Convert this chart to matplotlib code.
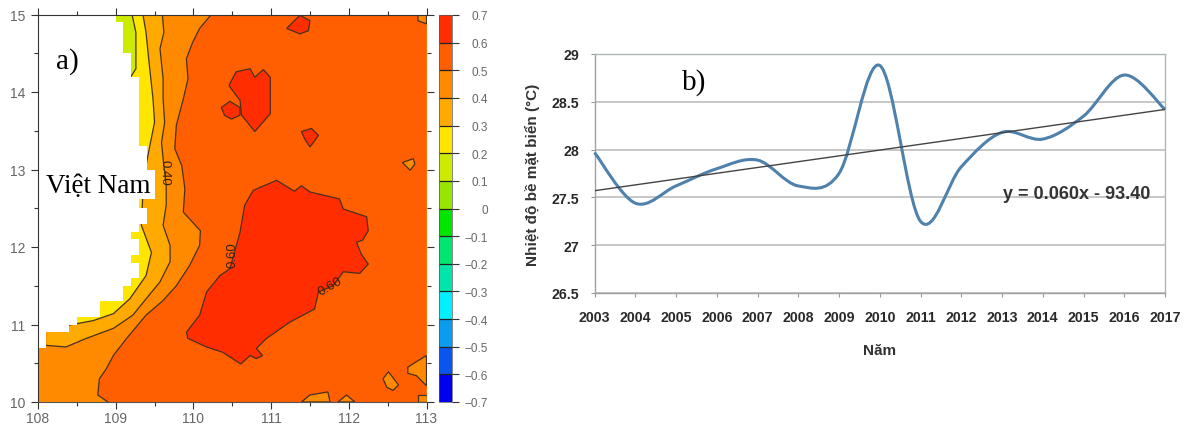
import numpy as np
import matplotlib
matplotlib.use("Agg")
import matplotlib.pyplot as plt
from matplotlib.colors import ListedColormap, BoundaryNorm
from matplotlib.cm import ScalarMappable
from matplotlib.path import Path
from matplotlib.patches import PathPatch

W, H = 1187, 427

# ---------- panel a: contour outlines (lon, lat) ----------
land = [(108,15),(109,15),(109,14.9),(109.1,14.9),(109.1,14.5),(109.2,14.5),(109.2,14.2),(109.3,14.2),
        (109.3,13.3),(109.4,13.3),(109.4,13.0),(109.5,13.0),(109.5,12.62),(109.3,12.62),(109.3,12.5),
        (109.4,12.5),(109.4,12.3),(109.3,12.3),(109.3,12.2),(109.2,12.2),(109.2,12.1),(109.3,12.1),
        (109.3,11.9),(109.2,11.9),(109.2,11.8),(109.3,11.8),(109.3,11.6),(109.2,11.6),(109.2,11.5),
        (109.1,11.5),(109.1,11.3),(108.8,11.3),(108.8,11.1),(108.5,11.1),(108.5,11.0),(108.4,11.0),
        (108.4,10.9),(108.1,10.9),(108.1,10.7),(108,10.7)]
c50 = [(110.23,15),(110.08,14.82),(109.99,14.64),(109.91,14.43),(109.93,14.17),(109.87,13.91),(109.78,13.57),
       (109.76,13.27),(109.85,13.05),(109.89,12.75),(109.87,12.45),(110.09,12.21),(110.08,12.02),(109.95,11.76),
       (109.78,11.50),(109.61,11.31),(109.39,11.12),(109.14,10.82),(108.97,10.60),(108.88,10.43),(108.79,10.30),
       (108.77,10.09),(108.90,10.0)]
c40 = [(109.60,15),(109.62,14.77),(109.57,14.56),(109.61,14.17),(109.61,13.91),(109.63,13.61),(109.59,13.35),
       (109.61,13.14),(109.65,12.79),(109.65,12.54),(109.61,12.28),(109.70,12.02),(109.70,11.81),(109.57,11.55),
       (109.39,11.33),(109.22,11.12),(108.97,10.95),(108.62,10.82),(108.36,10.71),(108.11,10.73)]
c30 = [(109.35,15),(109.39,14.77),(109.42,14.47),(109.48,13.91),(109.50,13.61),(109.44,13.31),(109.39,13.05),
       (109.35,12.7),(109.33,12.28),(109.46,11.93),(109.39,11.63),(109.18,11.33),(108.97,11.14),(108.71,11.05),
       (108.39,10.99)]
c20 = [(109.21,15),(109.26,14.77),(109.26,14.30),(109.19,14.19)]
red_blobs = [
    [(111.20,14.82),(111.37,14.99),(111.50,14.92),(111.48,14.79),(111.37,14.75)],
    [(110.47,14.11),(110.55,14.26),(110.73,14.30),(110.79,14.19),(110.90,14.29),(110.99,14.19),(110.99,13.72),
     (110.79,13.49),(110.62,13.70),(110.60,13.89),(110.46,14.08)],
    [(110.36,13.80),(110.47,13.88),(110.60,13.80),(110.60,13.70),(110.49,13.65),(110.40,13.70)],
    [(111.39,13.49),(111.52,13.53),(111.61,13.44),(111.56,13.37),(111.50,13.29),(111.43,13.40)],
    [(109.91,10.90),(110.08,11.12),(110.17,11.42),(110.34,11.63),(110.47,11.72),(110.60,12.19),(110.66,12.54),
     (110.77,12.73),(111.07,12.86),(111.30,12.72),(111.39,12.79),(111.50,12.71),(111.88,12.62),(111.93,12.49),
     (112.23,12.39),(112.25,12.21),(112.18,12.09),(112.10,12.06),(112.16,11.91),(112.25,11.78),(112.14,11.66),
     (111.93,11.68),(111.80,11.50),(111.61,11.42),(111.56,11.20),(111.24,11.03),(110.94,10.82),(110.81,10.69),
     (110.89,10.60),(110.81,10.56),(110.73,10.60),(110.61,10.49),(110.38,10.64),(110.17,10.71),(109.93,10.82)],
]
orange_blobs = [
    [(112.89,15),(112.89,14.92),(113,14.88),(113,15)],
    [(112.76,10.45),(112.87,10.52),(113,10.6),(113,10.21),(112.87,10.34),(112.76,10.37)],
    [(112.44,10.30),(112.51,10.39),(112.64,10.22),(112.57,10.15),(112.49,10.19)],
    [(111.39,10),(111.50,10.09),(111.73,10.13),(111.76,10)],
    [(111.86,10),(111.97,10.09),(112.08,10)],
    [(112.89,10.09),(113,10.09),(113,10),(112.89,10)],
    [(112.69,13.09),(112.83,13.14),(112.85,13.07),(112.79,12.99)],
]
levels = [-0.7,-0.6,-0.5,-0.4,-0.3,-0.2,-0.1,0,0.1,0.2,0.3,0.4,0.5,0.6,0.7]
level_labels = ['\u22120.7','\u22120.6','\u22120.5','\u22120.4','\u22120.3','\u22120.2','\u22120.1','0',
                '0.1','0.2','0.3','0.4','0.5','0.6','0.7']
level_colors = ['#0000F0','#0A55EE','#0A9CEE','#00F0FF','#00E6AA','#00E66E','#00E600',
                '#96E600','#CDEB00','#FFE600','#FFAA00','#FF8A00','#FF5F00','#FF2D00']
lon_ticks = [108,109,110,111,112,113]
lat_ticks = [10,11,12,13,14,15]

# ---------- panel b ----------
years = list(range(2003,2018))
sst = [27.97,27.44,27.62,27.80,27.89,27.62,27.75,28.88,27.25,27.82,28.18,28.11,28.35,28.78,28.42]
trend_ends = [27.57,28.42]
y_ticks = [26.5,27,27.5,28,28.5,29]
y_labels = ['26.5','27','27.5','28','28.5','29']

def box(x0,y0,x1,y1):
    return [x0/W, 1-y1/H, (x1-x0)/W, (y1-y0)/H]

fig = plt.figure(figsize=(W/100,H/100),dpi=100,facecolor='white')

# ---------- map ----------
ax = fig.add_axes(box(38,15.5,426.5,403))
ax.set_xlim(108,113); ax.set_ylim(10,15)
ax.set_facecolor(level_colors[11])
EDGE = '#4a3020'
ax.fill(*np.array(c50+[(113,10),(113,15)]).T,color=level_colors[12],lw=0,zorder=1)
ax.fill(*np.array(c40+[(108.11,15)]).T,color=level_colors[10],lw=0,zorder=1.2)
ax.fill(*np.array(c30+[(108.39,15)]).T,color=level_colors[9],lw=0,zorder=1.3)
ax.fill(*np.array(c20+[(109,14.19),(109,15)]).T,color=level_colors[8],lw=0,zorder=1.4)
for b in orange_blobs:
    ax.fill(*np.array(b+[b[0]]).T,facecolor=level_colors[11],edgecolor=EDGE,lw=0.9,zorder=2)
for b in red_blobs:
    ax.fill(*np.array(b+[b[0]]).T,facecolor=level_colors[13],edgecolor=EDGE,lw=0.9,zorder=2)
for c in (c50,c40,c30,c20):
    a = np.array(c)
    ax.plot(a[:,0],a[:,1],color=EDGE,lw=0.9,zorder=2.5)
ax.fill(*np.array(land).T,color='white',lw=0,zorder=3)
ax.set_xticks(lon_ticks); ax.set_yticks(lat_ticks)
ax.set_xticks(np.arange(108,113.01,0.5),minor=True); ax.set_yticks(np.arange(10,15.01,0.5),minor=True)
ax.tick_params(which='major',direction='out',length=5,width=0.8,top=True,right=True,color='#333333',
               labelsize=10,labelcolor='#666666')
ax.tick_params(axis='x',which='major',pad=1.5)
ax.tick_params(axis='y',which='major',pad=4.3)
ax.tick_params(which='minor',direction='out',length=3,width=0.8,top=True,right=True,color='#333333')
for s in ax.spines.values():
    s.set_linewidth(0.8); s.set_color('#333333'); s.set_zorder(4)
ax.spines['right'].set_visible(False)
ax.spines['bottom'].set_color('#555555')
for lab in ax.get_xticklabels()+ax.get_yticklabels():
    lab.set_family('Liberation Sans')
ax.text(108.23,14.31,'a)',family='Liberation Serif',fontsize=21,color='black',zorder=6,va='baseline')
ax.text(108.10,12.71,'Vi\u1ec7t Nam',family='Liberation Serif',fontsize=19.5,color='black',zorder=6,va='baseline',
        bbox=dict(facecolor='white',edgecolor='none',pad=1))
for x_,y_,t,r in [(109.63,12.97,'0.40',-90),(110.5,11.91,'0.60',90),(111.76,11.5,'0.60',30)]:
    ax.text(x_,y_,t,rotation=r,ha='center',va='center',fontsize=9.5,color='#3a2010',
            family='Liberation Sans',zorder=5)

# ---------- colour bar ----------
cax = fig.add_axes(box(439,16,452,403))
cmap = ListedColormap(level_colors); norm = BoundaryNorm(levels,cmap.N)
cb = fig.colorbar(ScalarMappable(norm=norm,cmap=cmap),cax=cax,ticks=levels,spacing='uniform',drawedges=True)
cb.ax.set_yticklabels(level_labels)
cb.outline.set_linewidth(0.5); cb.outline.set_edgecolor('#555555')
cb.dividers.set_color('#222222'); cb.dividers.set_linewidth(0.9)
cb.ax.tick_params(length=5,width=0.8,labelsize=8.5,labelcolor='#666666',color='#333333',pad=21)
for lab in cb.ax.get_yticklabels():
    lab.set_family('Liberation Sans'); lab.set_horizontalalignment('right')

# ---------- line chart ----------
bx = fig.add_axes(box(594.5,55,1165,294))
bx.set_xlim(years[0],years[-1]); bx.set_ylim(26.5,29)
bx.set_yticks(y_ticks); bx.set_yticklabels(y_labels)
bx.set_xticks(years); bx.set_xticklabels([str(v) for v in years])
bx.grid(axis='y',color='#b8b8b8',lw=1.1); bx.set_axisbelow(True)
for n,s in bx.spines.items():
    s.set_linewidth(1.0); s.set_color('#b0b8bc')
bx.spines['left'].set_color('#a0a0a0'); bx.spines['bottom'].set_color('#a0a0a0')
bx.tick_params(axis='x',length=3,width=0.8,color='#999999',labelsize=10.2,labelcolor='#2a2a2a',pad=9.2)
bx.tick_params(axis='y',length=3,width=0.8,color='#999999',labelsize=10.2,labelcolor='#2a2a2a',pad=8)
for lab in bx.get_xticklabels()+bx.get_yticklabels():
    lab.set_family('Liberation Sans'); lab.set_fontweight('bold')

# Excel-style smoothed line: cubic Bezier segments through the yearly values
xs = np.array(years,float); ys = np.array(sst,float)
verts=[(xs[0],ys[0])]; codes=[Path.MOVETO]
for i in range(len(xs)-1):
    p0 = max(i-1,0); p3 = min(i+2,len(xs)-1)
    c1 = (xs[i]+(xs[i+1]-xs[p0])/6, ys[i]+(ys[i+1]-ys[p0])/6)
    c2 = (xs[i+1]-(xs[p3]-xs[i])/6, ys[i+1]-(ys[p3]-ys[i])/6)
    verts += [c1,c2,(xs[i+1],ys[i+1])]; codes += [Path.CURVE4]*3
bx.add_patch(PathPatch(Path(verts,codes),facecolor='none',edgecolor='#4F81AD',lw=2.2,zorder=3,clip_on=False))
bx.plot([years[0],years[-1]],trend_ends,color='#444444',lw=1.0,zorder=4)
bx.text(2013.02,27.54,'y = 0.060x - 93.40',family='Liberation Sans',fontweight='bold',fontsize=13,
        color='#333333',va='center',zorder=5)
bx.text(2005.15,28.64,'b)',family='Liberation Serif',fontsize=21,color='black',va='baseline',zorder=5)
bx.set_xlabel('N\u0103m',family='Liberation Sans',fontweight='bold',fontsize=11,color='#333333',labelpad=14)
bx.set_ylabel('Nhi\u1ec7t \u0111\u1ed9 b\u1ec1 m\u1eb7t bi\u1ec3n (\u00b0C)',family='Liberation Sans',fontweight='bold',
              fontsize=11,color='#333333',labelpad=8.5)

fig.savefig('out.png',dpi=100)
